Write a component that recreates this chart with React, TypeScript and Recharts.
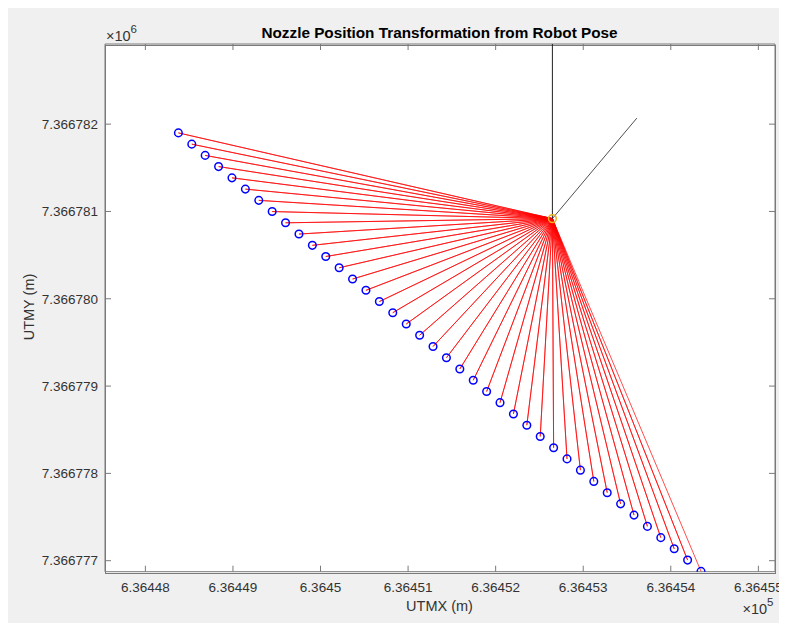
import React from 'react';
import { ScatterChart, Scatter, XAxis, YAxis } from 'recharts';

// Nozzle positions (UTM, metres)
const nozzleX = [
  636448.377, 636448.530, 636448.683, 636448.836, 636448.989, 636449.142, 636449.295, 636449.448,
  636449.601, 636449.754, 636449.907, 636450.060, 636450.213, 636450.366, 636450.519, 636450.672,
  636450.825, 636450.979, 636451.132, 636451.285, 636451.438, 636451.591, 636451.744, 636451.897,
  636452.050, 636452.203, 636452.356, 636452.509, 636452.662, 636452.815, 636452.968, 636453.121,
  636453.274, 636453.427, 636453.580, 636453.733, 636453.886, 636454.039, 636454.192, 636454.345,
];
const nozzleY = [
  7366781.900, 7366781.771, 7366781.642, 7366781.514, 7366781.385, 7366781.256, 7366781.127, 7366780.999,
  7366780.870, 7366780.741, 7366780.612, 7366780.484, 7366780.355, 7366780.226, 7366780.097, 7366779.968,
  7366779.840, 7366779.711, 7366779.582, 7366779.453, 7366779.325, 7366779.196, 7366779.067, 7366778.938,
  7366778.810, 7366778.681, 7366778.552, 7366778.423, 7366778.294, 7366778.166, 7366778.037, 7366777.908,
  7366777.779, 7366777.651, 7366777.522, 7366777.393, 7366777.264, 7366777.136, 7366777.007, 7366776.878,
];

// Robot pose
const robotX = 636452.648;
const robotY = 7366780.918;
const northEnd = { x: 636452.648, y: 7366782.918 };
const headingEnd = { x: 636453.612, y: 7366782.069 };

const xTicks = [636448, 636449, 636450, 636451, 636452, 636453, 636454, 636455];
const yTicks = [7366777, 7366778, 7366779, 7366780, 7366781, 7366782];
const xDomain = [636447.539, 636455.19];
const yDomain = [7366776.874, 7366782.918];

const center = { x: robotX, y: robotY };
const nozzles = nozzleX.map((x, i) => ({ x, y: nozzleY[i] }));
const fan: { x: number; y: number }[] = [];
nozzles.forEach((p) => {
  fan.push(center);
  fan.push(p);
});

const FONT = '"Liberation Sans", Arial, Helvetica, sans-serif';
const AXIS = '#7a7a7a';
const TXT = '#333333';

const fmtX = (v: number) => (v / 1e5).toFixed(5).replace(/0+$/, '').replace(/\.$/, '');
const fmtY = (v: number) => (v / 1e6).toFixed(6);
const blank = () => '';

const Empty = () => <g />;
const BlueCircle = (props: any) => (
  <circle cx={props.cx} cy={props.cy} r={3.8} fill="none" stroke="#0000ff" strokeWidth={1.5} />
);
const OrangeCircle = (props: any) => (
  <circle cx={props.cx} cy={props.cy} r={3.9} fill="none" stroke="#EDB120" strokeWidth={1.5} />
);

export default function App() {
  const W = 772;
  const H = 615;
  const CW = 787;
  return (
    <div style={{ position: 'relative', width: W, height: H, background: '#f0f0f0' }}>
      <div
        style={{
          position: 'absolute',
          left: 96.5,
          top: 36.5,
          width: 669,
          height: 527,
          background: '#ffffff',
          border: `1px solid ${AXIS}`,
        }}
      />
      <div style={{ position: 'absolute', left: 0, top: 0 }}>
        <ScatterChart width={CW} height={H} margin={{ top: 36, right: 20, bottom: 0, left: 0 }}>
          <XAxis
            dataKey="x"
            type="number"
            domain={xDomain}
            allowDataOverflow
            ticks={xTicks}
            interval={0}
            tickFormatter={fmtX}
            height={51.3}
            stroke={AXIS}
            tickSize={-6}
            tickMargin={17}
            tick={{ fill: TXT, fontSize: 13.5, fontFamily: FONT }}
          />
          <XAxis
            xAxisId="top"
            orientation="top"
            dataKey="x"
            type="number"
            domain={xDomain}
            allowDataOverflow
            ticks={xTicks}
            interval={0}
            height={1}
            mirror
            stroke={AXIS}
            tickSize={6}
            tickFormatter={blank}
            tick={{ fontSize: 1 }}
          />
          <YAxis
            dataKey="y"
            type="number"
            domain={yDomain}
            allowDataOverflow
            ticks={yTicks}
            interval={0}
            tickFormatter={fmtY}
            width={97}
            stroke={AXIS}
            tickSize={-6}
            tickMargin={13}
            tick={{ fill: TXT, fontSize: 13.5, fontFamily: FONT }}
          />
          <YAxis
            yAxisId="right"
            orientation="right"
            dataKey="y"
            type="number"
            domain={yDomain}
            allowDataOverflow
            ticks={yTicks}
            interval={0}
            width={1}
            mirror
            stroke={AXIS}
            tickSize={6}
            tickFormatter={blank}
            tick={{ fontSize: 1 }}
          />
          <Scatter
            data={fan}
            line={{ stroke: '#ff0000', strokeWidth: 0.7 }}
            lineType="joint"
            shape={Empty}
            isAnimationActive={false}
          />
          <Scatter data={nozzles} shape={BlueCircle} isAnimationActive={false} />
          <Scatter
            data={[center, northEnd]}
            line={{ stroke: '#222222', strokeWidth: 1 }}
            lineType="joint"
            shape={Empty}
            isAnimationActive={false}
          />
          <Scatter
            data={[center, headingEnd]}
            line={{ stroke: '#222222', strokeWidth: 0.8 }}
            lineType="joint"
            shape={Empty}
            isAnimationActive={false}
          />
          <Scatter data={[center]} shape={OrangeCircle} isAnimationActive={false} />
          <Scatter
            xAxisId="top"
            yAxisId="right"
            data={[center]}
            shape={Empty}
            isAnimationActive={false}
          />
        </ScatterChart>
      </div>
      <svg
        width={CW}
        height={H}
        style={{ position: 'absolute', left: 0, top: 0, pointerEvents: 'none', overflow: 'visible' }}
        fontFamily={FONT}
      >
        <text x={431.5} y={30.3} textAnchor="middle" fontSize={15.3} fontWeight="bold" fill="#000">
          Nozzle Position Transformation from Robot Pose
        </text>
        <text x={431.5} y={603} textAnchor="middle" fontSize={14.5} fill={TXT}>
          UTMX (m)
        </text>
        <text
          x={0}
          y={0}
          transform="translate(25.5 299) rotate(-90)"
          textAnchor="middle"
          fontSize={14.5}
          fill={TXT}
        >
          UTMY (m)
        </text>
        <text x={98} y={33} fontSize={14.5} fill={TXT}>
          ×10<tspan dy={-8.5} fontSize={11.5}>6</tspan>
        </text>
        <text x={734.5} y={606} fontSize={14.5} fill={TXT}>
          ×10<tspan dy={-8.5} fontSize={11.5}>5</tspan>
        </text>
      </svg>
    </div>
  );
}
